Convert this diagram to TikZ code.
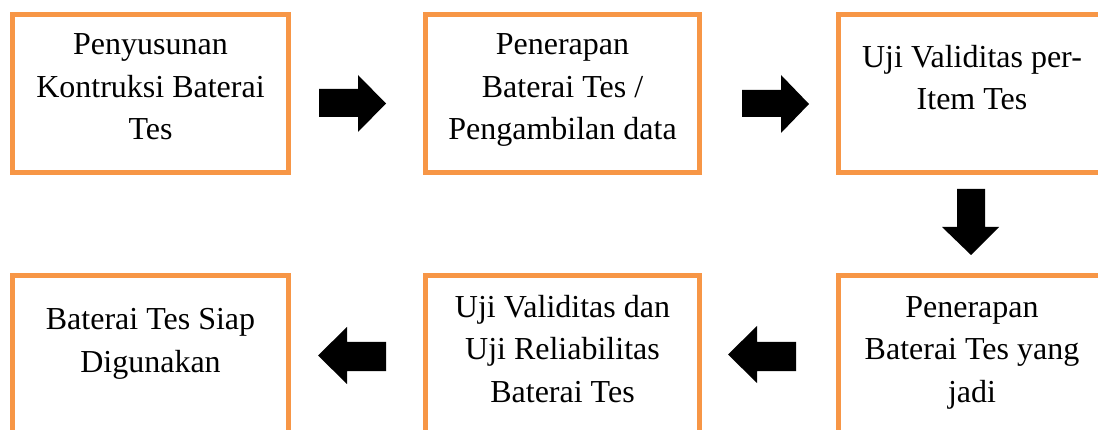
\documentclass[tikz,border=0pt]{standalone}
\usepackage{fontspec}
\setmainfont{Liberation Serif}
\definecolor{boxorange}{HTML}{F79646}
\tikzset{
  flowbox/.style={draw=boxorange, line width=5pt, fill=white, rectangle, inner sep=0pt},
  boxtext/.style={align=center, inner sep=0pt, font=\fontsize{32}{42.5}\selectfont},
  blockarrow/.style={fill=black, draw=none}
}
\begin{document}
\begin{tikzpicture}[x=1pt,y=-1pt]
\useasboundingbox (0,0) rectangle (1098,430);
\clip (0,0) rectangle (1098,430);
% boxes
\node[flowbox, minimum width=276pt, minimum height=158pt] (b1) at (150.5,93.5) {};
\node[flowbox, minimum width=274pt, minimum height=158pt] (b2) at (562.5,93.5) {};
\node[flowbox, minimum width=267pt, minimum height=158pt] (b3) at (972,93.5) {};
\node[flowbox, minimum width=276pt, minimum height=158pt] (b4) at (150.5,354.5) {};
\node[flowbox, minimum width=274pt, minimum height=158pt] (b5) at (562.5,354.5) {};
\node[flowbox, minimum width=267pt, minimum height=158pt] (b6) at (972,354.5) {};
% texts (anchor base = baseline of last line)
\node[boxtext, anchor=base] (t1) at (150.5,140) {Penyusunan\\Kontruksi Baterai\\Tes};
\node[boxtext, anchor=base] (t2) at (562.5,140) {Penerapan\\Baterai Tes /\\Pengambilan data};
\node[boxtext, anchor=base] (t3) at (972,110) {Uji Validitas per-\\Item Tes};
\node[boxtext, anchor=base] (t4) at (150.5,372) {Baterai Tes Siap\\Digunakan};
\node[boxtext, anchor=base] (t5) at (562.5,402) {Uji Validitas dan\\Uji Reliabilitas\\Baterai Tes};
\node[boxtext, anchor=base] (t6) at (972,402) {Penerapan\\Baterai Tes yang\\jadi};
% block arrows
\fill[blockarrow] (319,89) -- (358,89) -- (358,75) -- (386,103.5) -- (358,132) -- (358,117) -- (319,117) -- cycle;
\fill[blockarrow] (742,90) -- (781,90) -- (781,75) -- (809,104) -- (781,133) -- (781,117) -- (742,117) -- cycle;
\fill[blockarrow] (957,189) -- (985,189) -- (985,227) -- (999,227) -- (971,255) -- (942,227) -- (957,227) -- cycle;
\fill[blockarrow] (386,342) -- (347,342) -- (347,327) -- (318,355.5) -- (347,384) -- (347,371) -- (386,371) -- cycle;
\fill[blockarrow] (796,342) -- (757,342) -- (757,326) -- (728,354.5) -- (757,383) -- (757,371) -- (796,371) -- cycle;
\end{tikzpicture}
\end{document}
